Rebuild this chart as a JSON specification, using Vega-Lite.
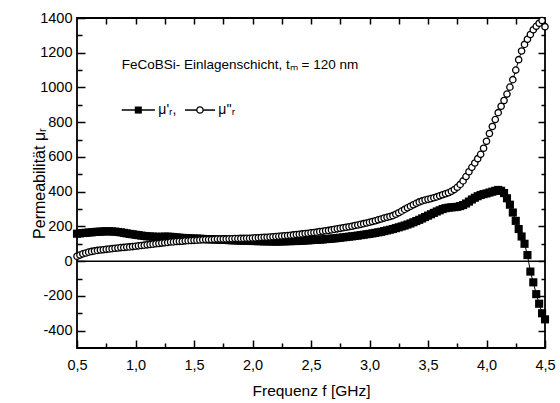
{
  "$schema": "https://vega.github.io/schema/vega-lite/v6.json",
  "width": 468,
  "height": 330,
  "autosize": {"type": "none"},
  "padding": {"left": 77, "top": 18, "right": 15, "bottom": 55},
  "background": "white",
  "config": {
    "font": "Liberation Sans",
    "view": {"stroke": "black", "strokeWidth": 1.8},
    "axis": {"grid": false, "domain": false, "tickColor": "black", "tickWidth": 1.5, "labelColor": "black", "titleColor": "black", "labelFlush": false, "labelOverlap": false, "titleFontWeight": "normal"}
  },
  "data": {"values": [
    {"f":0.500,"a":158,"b":28},{"f":0.525,"a":160,"b":35},{"f":0.550,"a":162,"b":42},{"f":0.575,"a":163,"b":47},
    {"f":0.600,"a":165,"b":52},{"f":0.625,"a":166,"b":56},{"f":0.650,"a":168,"b":59},{"f":0.675,"a":169,"b":62},
    {"f":0.700,"a":170,"b":64},{"f":0.725,"a":171,"b":66},{"f":0.750,"a":172,"b":68},{"f":0.775,"a":172,"b":70},
    {"f":0.800,"a":171,"b":72},{"f":0.825,"a":170,"b":74},{"f":0.850,"a":168,"b":76},{"f":0.875,"a":166,"b":78},
    {"f":0.900,"a":163,"b":79},{"f":0.925,"a":160,"b":81},{"f":0.950,"a":157,"b":82},{"f":0.975,"a":155,"b":84},
    {"f":1.000,"a":152,"b":86},{"f":1.025,"a":150,"b":88},{"f":1.050,"a":147,"b":90},{"f":1.075,"a":145,"b":92},
    {"f":1.100,"a":143,"b":94},{"f":1.125,"a":142,"b":96},{"f":1.150,"a":141,"b":98},{"f":1.175,"a":140,"b":100},
    {"f":1.200,"a":140,"b":102},{"f":1.225,"a":140,"b":104},{"f":1.250,"a":141,"b":106},{"f":1.275,"a":141,"b":108},
    {"f":1.300,"a":140,"b":110},{"f":1.325,"a":139,"b":111},{"f":1.350,"a":137,"b":113},{"f":1.375,"a":135,"b":114},
    {"f":1.400,"a":134,"b":115},{"f":1.425,"a":133,"b":117},{"f":1.450,"a":132,"b":118},{"f":1.475,"a":131,"b":119},
    {"f":1.500,"a":130,"b":120},{"f":1.525,"a":130,"b":121},{"f":1.550,"a":129,"b":122},{"f":1.575,"a":128,"b":123},
    {"f":1.600,"a":127,"b":124},{"f":1.625,"a":126,"b":125},{"f":1.650,"a":126,"b":125},{"f":1.675,"a":125,"b":126},
    {"f":1.700,"a":124,"b":127},{"f":1.725,"a":123,"b":127},{"f":1.750,"a":123,"b":128},{"f":1.775,"a":122,"b":128},
    {"f":1.800,"a":121,"b":129},{"f":1.825,"a":120,"b":129},{"f":1.850,"a":120,"b":130},{"f":1.875,"a":119,"b":130},
    {"f":1.900,"a":118,"b":131},{"f":1.925,"a":118,"b":131},{"f":1.950,"a":117,"b":132},{"f":1.975,"a":117,"b":132},
    {"f":2.000,"a":116,"b":133},{"f":2.025,"a":116,"b":134},{"f":2.050,"a":115,"b":135},{"f":2.075,"a":115,"b":136},
    {"f":2.100,"a":114,"b":137},{"f":2.125,"a":114,"b":138},{"f":2.150,"a":114,"b":139},{"f":2.175,"a":113,"b":140},
    {"f":2.200,"a":113,"b":142},{"f":2.225,"a":113,"b":143},{"f":2.250,"a":114,"b":145},{"f":2.275,"a":114,"b":146},
    {"f":2.300,"a":115,"b":148},{"f":2.325,"a":115,"b":149},{"f":2.350,"a":116,"b":151},{"f":2.375,"a":116,"b":153},
    {"f":2.400,"a":117,"b":155},{"f":2.425,"a":118,"b":157},{"f":2.450,"a":119,"b":159},{"f":2.475,"a":120,"b":161},
    {"f":2.500,"a":121,"b":163},{"f":2.525,"a":122,"b":165},{"f":2.550,"a":123,"b":167},{"f":2.575,"a":124,"b":170},
    {"f":2.600,"a":125,"b":172},{"f":2.625,"a":127,"b":175},{"f":2.650,"a":128,"b":177},{"f":2.675,"a":130,"b":180},
    {"f":2.700,"a":131,"b":183},{"f":2.725,"a":133,"b":186},{"f":2.750,"a":135,"b":189},{"f":2.775,"a":137,"b":192},
    {"f":2.800,"a":139,"b":195},{"f":2.825,"a":141,"b":198},{"f":2.850,"a":143,"b":201},{"f":2.875,"a":145,"b":205},
    {"f":2.900,"a":147,"b":208},{"f":2.925,"a":150,"b":212},{"f":2.950,"a":152,"b":216},{"f":2.975,"a":155,"b":220},
    {"f":3.000,"a":157,"b":224},{"f":3.025,"a":160,"b":228},{"f":3.050,"a":163,"b":233},{"f":3.075,"a":166,"b":238},
    {"f":3.100,"a":169,"b":243},{"f":3.125,"a":173,"b":248},{"f":3.150,"a":177,"b":253},{"f":3.175,"a":181,"b":257},
    {"f":3.200,"a":185,"b":262},{"f":3.225,"a":190,"b":270},{"f":3.250,"a":195,"b":279},{"f":3.275,"a":200,"b":288},
    {"f":3.300,"a":205,"b":298},{"f":3.325,"a":211,"b":307},{"f":3.350,"a":217,"b":316},{"f":3.375,"a":224,"b":325},
    {"f":3.400,"a":231,"b":333},{"f":3.425,"a":238,"b":341},{"f":3.450,"a":246,"b":347},{"f":3.475,"a":254,"b":352},
    {"f":3.500,"a":262,"b":356},{"f":3.525,"a":270,"b":360},{"f":3.550,"a":278,"b":365},{"f":3.575,"a":286,"b":370},
    {"f":3.600,"a":293,"b":376},{"f":3.625,"a":300,"b":382},{"f":3.650,"a":305,"b":388},{"f":3.675,"a":308,"b":394},
    {"f":3.700,"a":310,"b":402},{"f":3.725,"a":311,"b":412},{"f":3.750,"a":313,"b":425},{"f":3.775,"a":317,"b":442},
    {"f":3.800,"a":323,"b":462},{"f":3.825,"a":332,"b":487},{"f":3.850,"a":343,"b":515},{"f":3.875,"a":355,"b":540},
    {"f":3.900,"a":365,"b":565},{"f":3.925,"a":374,"b":590},{"f":3.950,"a":381,"b":615},{"f":3.975,"a":386,"b":650},
    {"f":4.000,"a":390,"b":690},{"f":4.025,"a":395,"b":735},{"f":4.050,"a":400,"b":775},{"f":4.075,"a":405,"b":815},
    {"f":4.100,"a":410,"b":855},{"f":4.125,"a":405,"b":892},{"f":4.150,"a":392,"b":925},{"f":4.175,"a":362,"b":962},
    {"f":4.200,"a":325,"b":1002},{"f":4.225,"a":280,"b":1045},{"f":4.250,"a":232,"b":1100},{"f":4.275,"a":185,"b":1160},
    {"f":4.300,"a":142,"b":1210},{"f":4.325,"a":100,"b":1248},{"f":4.350,"a":35,"b":1278},{"f":4.375,"a":-60,"b":1305},
    {"f":4.400,"a":-122,"b":1332},{"f":4.425,"a":-190,"b":1352},{"f":4.450,"a":-245,"b":1370},{"f":4.475,"a":-300,"b":1385},
    {"f":4.500,"a":-335,"b":1350}
  ]},
  "layer": [
    {
      "data": {"values": [{}]},
      "mark": {"type": "rule", "color": "black", "strokeWidth": 1.5},
      "encoding": {
        "y": {"datum": 0, "type": "quantitative", "scale": {"domain": [-500, 1400], "nice": false, "zero": false}, "axis": null}
      }
    },
    {
      "mark": {"type": "line", "color": "black", "strokeWidth": 1},
      "encoding": {
        "x": {"field": "f", "type": "quantitative", "scale": {"domain": [0.5, 4.5], "nice": false, "zero": false},
          "axis": {"orient": "top", "values": [0.75,1,1.25,1.5,1.75,2,2.25,2.5,2.75,3,3.25,3.5,3.75,4,4.25], "tickSize": -6, "labels": false, "title": null}},
        "y": {"field": "a", "type": "quantitative", "scale": {"domain": [-500, 1400], "nice": false, "zero": false},
          "axis": {"orient": "right", "values": [-400,-200,0,200,400,600,800,1000,1200], "tickSize": -7, "labels": false, "title": null}}
      }
    },
    {
      "mark": {"type": "line", "color": "black", "strokeWidth": 1},
      "encoding": {
        "x": {"field": "f", "type": "quantitative", "scale": {"domain": [0.5, 4.5], "nice": false, "zero": false}, "axis": null},
        "y": {"field": "b", "type": "quantitative", "scale": {"domain": [-500, 1400], "nice": false, "zero": false},
          "axis": {"orient": "right", "values": [-300,-100,100,300,500,700,900,1100,1300], "tickSize": -4, "labels": false, "title": null}}
      }
    },
    {
      "mark": {"type": "point", "shape": "square", "filled": true, "color": "black", "size": 66, "opacity": 1},
      "encoding": {
        "x": {"field": "f", "type": "quantitative", "scale": {"domain": [0.5, 4.5], "nice": false, "zero": false},
          "axis": {"orient": "bottom", "values": [0.5,1,1.5,2,2.5,3,3.5,4,4.5], "tickSize": -8,
            "labelExpr": "replace(format(datum.value, '.1f'), '.', ',')", "labelFontSize": 14.5, "labelPadding": 18.5,
            "title": "Frequenz f [GHz]", "titleFontSize": 15.5, "titleX": 234, "titleY": 47, "titleAlign": "center", "titleBaseline": "alphabetic"}},
        "y": {"field": "a", "type": "quantitative", "scale": {"domain": [-500, 1400], "nice": false, "zero": false},
          "axis": {"orient": "left", "values": [-400,-200,0,200,400,600,800,1000,1200,1400], "tickSize": -8,
            "labelExpr": "'' + datum.value", "labelFontSize": 14.5, "labelPadding": 13,
            "title": "Permeabilität μᵣ", "titleFontSize": 16, "titleX": -33, "titleY": 165, "titleAngle": 270, "titleAlign": "center", "titleBaseline": "alphabetic"}}
      }
    },
    {
      "mark": {"type": "point", "shape": "circle", "filled": true, "fill": "white", "stroke": "black", "strokeWidth": 1.3, "size": 40, "opacity": 1},
      "encoding": {
        "x": {"field": "f", "type": "quantitative", "scale": {"domain": [0.5, 4.5], "nice": false, "zero": false},
          "axis": {"orient": "bottom", "values": [0.75,1.25,1.75,2.25,2.75,3.25,3.75,4.25], "tickSize": -5, "labels": false, "title": null}},
        "y": {"field": "b", "type": "quantitative", "scale": {"domain": [-500, 1400], "nice": false, "zero": false},
          "axis": {"orient": "left", "values": [-300,-100,100,300,500,700,900,1100,1300], "tickSize": -5, "labels": false, "title": null}}
      }
    },
    {
      "data": {"values": [{}]},
      "mark": {"type": "text", "align": "left", "baseline": "middle", "fontSize": 13.5, "color": "black"},
      "encoding": {
        "x": {"datum": 0.882, "type": "quantitative", "scale": {"domain": [0.5, 4.5], "nice": false, "zero": false}, "axis": null},
        "y": {"datum": 1130, "type": "quantitative", "scale": {"domain": [-500, 1400], "nice": false, "zero": false}, "axis": null},
        "text": {"value": "FeCoBSi- Einlagenschicht, tₘ = 120 nm"}
      }
    },
    {
      "data": {"values": [{}]},
      "mark": {"type": "rule", "color": "black", "strokeWidth": 1.5},
      "encoding": {
        "x": {"datum": 0.882, "type": "quantitative", "scale": {"domain": [0.5, 4.5], "nice": false, "zero": false}, "axis": null},
        "x2": {"datum": 1.166},
        "y": {"datum": 870, "type": "quantitative", "scale": {"domain": [-500, 1400], "nice": false, "zero": false}, "axis": null}
      }
    },
    {
      "data": {"values": [{}]},
      "mark": {"type": "rule", "color": "black", "strokeWidth": 1.5},
      "encoding": {
        "x": {"datum": 1.423, "type": "quantitative", "scale": {"domain": [0.5, 4.5], "nice": false, "zero": false}, "axis": null},
        "x2": {"datum": 1.68},
        "y": {"datum": 870, "type": "quantitative", "scale": {"domain": [-500, 1400], "nice": false, "zero": false}, "axis": null}
      }
    },
    {
      "data": {"values": [{}]},
      "mark": {"type": "point", "shape": "square", "filled": true, "color": "black", "size": 50, "opacity": 1},
      "encoding": {
        "x": {"datum": 1.024, "type": "quantitative", "scale": {"domain": [0.5, 4.5], "nice": false, "zero": false}, "axis": null},
        "y": {"datum": 870, "type": "quantitative", "scale": {"domain": [-500, 1400], "nice": false, "zero": false}, "axis": null}
      }
    },
    {
      "data": {"values": [{}]},
      "mark": {"type": "point", "shape": "circle", "filled": true, "fill": "white", "stroke": "black", "strokeWidth": 1.3, "size": 40, "opacity": 1},
      "encoding": {
        "x": {"datum": 1.551, "type": "quantitative", "scale": {"domain": [0.5, 4.5], "nice": false, "zero": false}, "axis": null},
        "y": {"datum": 870, "type": "quantitative", "scale": {"domain": [-500, 1400], "nice": false, "zero": false}, "axis": null}
      }
    },
    {
      "data": {"values": [{}]},
      "mark": {"type": "text", "align": "left", "baseline": "middle", "fontSize": 14, "color": "black"},
      "encoding": {
        "x": {"datum": 1.195, "type": "quantitative", "scale": {"domain": [0.5, 4.5], "nice": false, "zero": false}, "axis": null},
        "y": {"datum": 870, "type": "quantitative", "scale": {"domain": [-500, 1400], "nice": false, "zero": false}, "axis": null},
        "text": {"value": "μ'ᵣ,"}
      }
    },
    {
      "data": {"values": [{}]},
      "mark": {"type": "text", "align": "left", "baseline": "middle", "fontSize": 14, "color": "black"},
      "encoding": {
        "x": {"datum": 1.708, "type": "quantitative", "scale": {"domain": [0.5, 4.5], "nice": false, "zero": false}, "axis": null},
        "y": {"datum": 870, "type": "quantitative", "scale": {"domain": [-500, 1400], "nice": false, "zero": false}, "axis": null},
        "text": {"value": "μ''ᵣ"}
      }
    }
  ],
  "resolve": {"axis": {"x": "independent", "y": "independent"}}
}
